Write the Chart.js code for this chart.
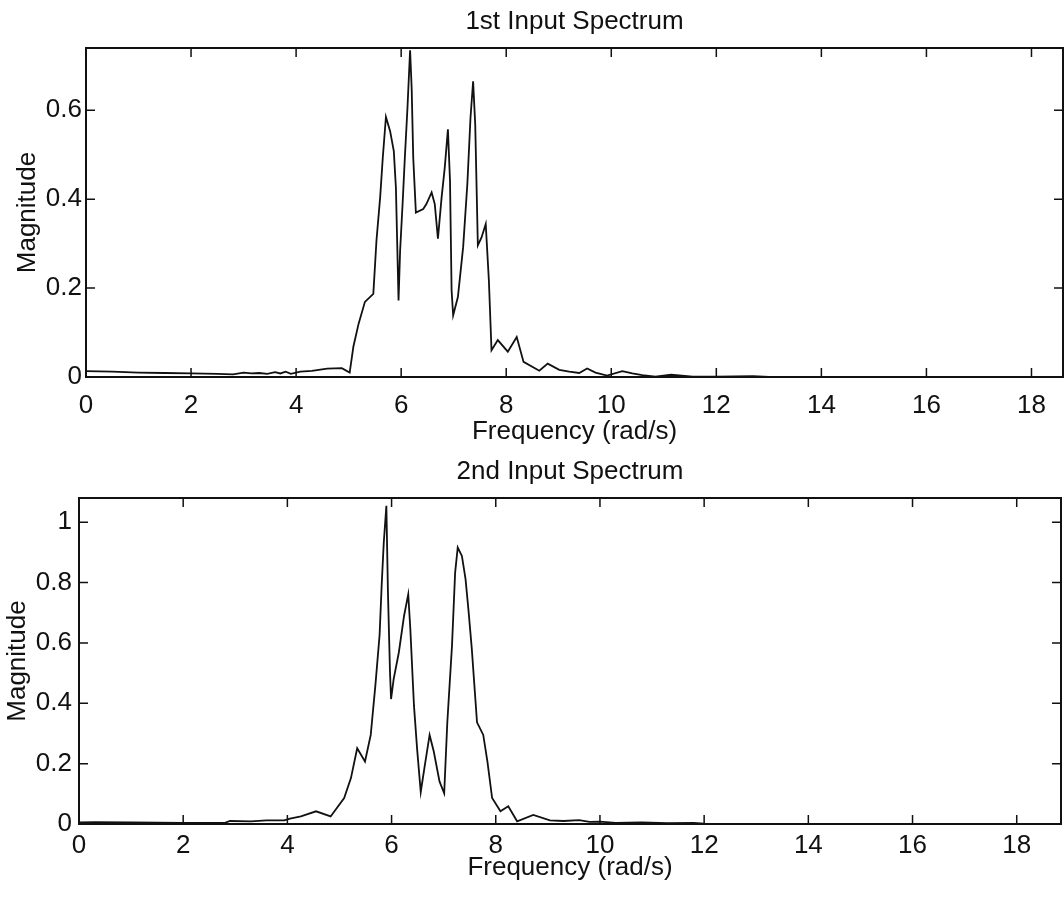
<!DOCTYPE html>
<html>
<head>
<meta charset="utf-8">
<script src="https://cdn.jsdelivr.net/npm/chart.js@4/dist/chart.umd.min.js"></script>
<style>
  html, body { margin: 0; padding: 0; background: #fff; overflow: hidden; }
  .plot { position: absolute; left: 0; }
</style>
</head>
<body>
<div class="plot" style="top:0;width:1064px;height:447px"><canvas id="spec1"></canvas></div>
<div class="plot" style="top:452px;width:1064px;height:431px"><canvas id="spec2"></canvas></div>
<script>
// 1st input spectrum (frequency in rad/s, magnitude)
const freq1 = [0.0, 0.5, 1.0, 1.5, 2.0, 2.5, 2.8, 3.0, 3.15, 3.3, 3.45, 3.6, 3.7, 3.8, 3.9, 4.08, 4.3, 4.59, 4.87, 5.02,
  5.09, 5.19, 5.31, 5.47, 5.53, 5.60, 5.65, 5.71, 5.79, 5.86, 5.90, 5.95, 5.98, 6.03, 6.07, 6.12, 6.17, 6.20, 6.23, 6.28,
  6.42, 6.48, 6.58, 6.64, 6.70, 6.77, 6.83, 6.89, 6.93, 6.96, 6.99, 7.08, 7.18, 7.26, 7.32, 7.37, 7.41, 7.46, 7.53, 7.61,
  7.67, 7.72, 7.84, 8.03, 8.20, 8.33, 8.63, 8.79, 9.01, 9.20, 9.39, 9.54, 9.70, 9.92, 10.21, 10.40, 10.59, 10.84, 11.14, 11.55,
  12.0, 12.7, 13.0, 14.0, 15.0, 16.0, 17.0, 18.0, 18.6];
const mag1 = [0.013, 0.012, 0.010, 0.009, 0.008, 0.007, 0.006, 0.010, 0.008, 0.009, 0.007, 0.011, 0.008, 0.012, 0.007, 0.012, 0.014, 0.019, 0.020, 0.010,
  0.068, 0.120, 0.169, 0.187, 0.307, 0.404, 0.493, 0.585, 0.553, 0.508, 0.426, 0.172, 0.284, 0.396, 0.493, 0.605, 0.735, 0.650, 0.493, 0.370,
  0.378, 0.389, 0.415, 0.389, 0.311, 0.404, 0.471, 0.557, 0.441, 0.195, 0.139, 0.180, 0.292, 0.434, 0.583, 0.665, 0.568, 0.296, 0.314, 0.344,
  0.217, 0.060, 0.083, 0.057, 0.090, 0.034, 0.014, 0.030, 0.016, 0.012, 0.009, 0.019, 0.010, 0.003, 0.013, 0.008, 0.004, 0.001, 0.005, 0.001,
  0.001, 0.002, 0.0, 0.0, 0.0, 0.0, 0.0, 0.0, 0.0];

// 2nd input spectrum
const freq2 = [0.0, 0.3, 1.0, 2.0, 2.8, 2.9, 3.3, 3.6, 3.94, 4.05, 4.26, 4.55, 4.83, 5.09, 5.22, 5.34, 5.49, 5.60, 5.69, 5.77,
  5.81, 5.85, 5.90, 5.93, 5.97, 5.99, 6.04, 6.14, 6.24, 6.32, 6.36, 6.43, 6.49, 6.56, 6.63, 6.73, 6.81, 6.92, 7.01, 7.07,
  7.16, 7.22, 7.27, 7.35, 7.42, 7.48, 7.54, 7.64, 7.76, 7.84, 7.93, 8.09, 8.24, 8.41, 8.72, 9.04, 9.30, 9.60, 9.80, 10.0,
  10.3, 10.8, 11.3, 11.8, 12.0, 13.0, 14.0, 15.0, 16.0, 17.0, 18.0, 18.85];
const mag2 = [0.005, 0.006, 0.005, 0.004, 0.004, 0.010, 0.009, 0.012, 0.012, 0.018, 0.025, 0.042, 0.025, 0.086, 0.152, 0.251, 0.207, 0.295, 0.461, 0.626,
  0.791, 0.932, 1.054, 0.770, 0.502, 0.414, 0.480, 0.569, 0.690, 0.761, 0.646, 0.392, 0.249, 0.106, 0.185, 0.295, 0.240, 0.141, 0.102, 0.337,
  0.591, 0.833, 0.916, 0.888, 0.811, 0.701, 0.580, 0.337, 0.295, 0.207, 0.086, 0.042, 0.059, 0.009, 0.030, 0.012, 0.010, 0.013, 0.007, 0.008,
  0.004, 0.005, 0.003, 0.004, 0.001, 0.0, 0.0, 0.0, 0.0, 0.0, 0.0, 0.0];

const xTicks = [0, 2, 4, 6, 8, 10, 12, 14, 16, 18];
const yTicks1 = [0, 0.2, 0.4, 0.6];
const yTickLabels1 = ['0', '0.2', '0.4', '0.6'];
const yTicks2 = [0, 0.2, 0.4, 0.6, 0.8, 1];
const yTickLabels2 = ['0', '0.2', '0.4', '0.6', '0.8', '1'];

const FONT = '"Liberation Sans", Arial, Helvetica, sans-serif';
const INK = '#111';

// MATLAB-style box with tick marks pointing inwards on all four sides,
// and the title centred over the axes box rather than the canvas
const matlabBox = {
  id: 'matlabBox',
  afterDatasetsDraw: function (chart, args, opts) {
    const ctx = chart.ctx;
    const a = chart.chartArea;
    const x = chart.scales.x;
    const y = chart.scales.y;
    const len = 9;

    ctx.save();
    ctx.strokeStyle = INK;
    ctx.lineWidth = 1.5;
    ctx.beginPath();
    x.ticks.forEach(function (t) {
      let px = x.getPixelForValue(t.value);
      ctx.moveTo(px, a.bottom);
      ctx.lineTo(px, a.bottom - len);
      ctx.moveTo(px, a.top);
      ctx.lineTo(px, a.top + len);
    });
    y.ticks.forEach(function (t) {
      let py = y.getPixelForValue(t.value);
      ctx.moveTo(a.left, py);
      ctx.lineTo(a.left + len, py);
      ctx.moveTo(a.right, py);
      ctx.lineTo(a.right - len, py);
    });
    ctx.stroke();
    ctx.lineWidth = 2;
    ctx.strokeRect(a.left, a.top, a.right - a.left, a.bottom - a.top);

    ctx.fillStyle = INK;
    ctx.font = '26px ' + FONT;
    ctx.textAlign = 'center';
    ctx.textBaseline = 'middle';
    ctx.fillText(opts.text, (a.left + a.right) / 2, opts.y);
    ctx.restore();
  }
};

function makeChart(id, opts) {
  const points = opts.freq.map(function (f, i) {
    return { x: f, y: opts.mag[i] };
  });

  return new Chart(document.getElementById(id), {
    type: 'line',
    data: {
      datasets: [{
        data: points,
        borderColor: INK,
        borderWidth: 1.8,
        pointRadius: 0,
        tension: 0,
        fill: false
      }]
    },
    options: {
      responsive: true,
      maintainAspectRatio: false,
      animation: false,
      layout: { padding: { left: 0, right: opts.padRight, top: opts.padTop, bottom: 0 } },
      plugins: {
        legend: { display: false },
        tooltip: { enabled: false },
        title: { display: false },
        matlabBox: { text: opts.title, y: opts.titleY }
      },
      scales: {
        x: {
          type: 'linear',
          min: 0,
          max: opts.xMax,
          afterBuildTicks: function (scale) {
            scale.ticks = xTicks.map(function (v) { return { value: v }; });
          },
          afterFit: function (scale) { scale.height = opts.xAxisHeight; },
          ticks: {
            autoSkip: false,
            maxRotation: 0,
            includeBounds: false,
            padding: opts.xTickPad,
            color: INK,
            font: { family: FONT, size: 26 },
            callback: function (v) { return String(v); }
          },
          grid: { display: false, drawTicks: false },
          border: { display: false },
          title: {
            display: true,
            text: 'Frequency (rad/s)',
            color: INK,
            font: { family: FONT, size: 26 },
            padding: { top: 0, bottom: 0 }
          }
        },
        y: {
          min: 0,
          max: opts.yMax,
          afterBuildTicks: function (scale) {
            scale.ticks = opts.yTicks.map(function (v) { return { value: v }; });
          },
          afterFit: function (scale) { scale.width = opts.yAxisWidth; },
          ticks: {
            includeBounds: false,
            padding: opts.yTickPad,
            color: INK,
            font: { family: FONT, size: 26 },
            callback: function (v) {
              return opts.yTickLabels[opts.yTicks.indexOf(v)];
            }
          },
          grid: { display: false, drawTicks: false },
          border: { display: false },
          title: {
            display: true,
            text: 'Magnitude',
            color: INK,
            font: { family: FONT, size: 26 },
            padding: { top: opts.yTitlePad, bottom: 0 }
          }
        }
      }
    },
    plugins: [matlabBox]
  });
}

makeChart('spec1', {
  freq: freq1, mag: mag1,
  title: '1st Input Spectrum', titleY: 22,
  xMax: 18.6, yMax: 0.74,
  yTicks: yTicks1, yTickLabels: yTickLabels1,
  padRight: 1, padTop: 48,
  xAxisHeight: 70, xTickPad: 13,
  yAxisWidth: 86, yTickPad: 4, yTitlePad: 12
});

makeChart('spec2', {
  freq: freq2, mag: mag2,
  title: '2nd Input Spectrum', titleY: 20,
  xMax: 18.85, yMax: 1.08,
  yTicks: yTicks2, yTickLabels: yTickLabels2,
  padRight: 3, padTop: 46,
  xAxisHeight: 59, xTickPad: 6,
  yAxisWidth: 79, yTickPad: 7, yTitlePad: 2
});
</script>
</body>
</html>
